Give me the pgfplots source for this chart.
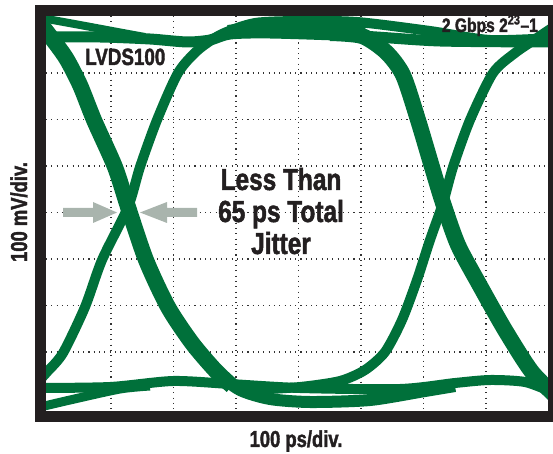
\documentclass[border=0pt]{standalone}
\usepackage{pgfplots}
\pgfplotsset{compat=1.18}
\usepackage{fontspec}
\setmainfont{Liberation Sans}
\newfontfamily\cond[FakeStretch=0.8,FakeBold=1.6]{Liberation Sans Bold}
\definecolor{eye}{RGB}{0,112,58}
\definecolor{framec}{RGB}{35,31,32}
\definecolor{arr}{RGB}{169,180,173}
\begin{document}
\begin{tikzpicture}
\useasboundingbox (0pt,0pt) rectangle (553pt,454pt);
\begin{axis}[
  at={(46pt,43pt)}, anchor=south west, scale only axis,
  width=502pt, height=395pt,
  xmin=46, xmax=548, ymin=16, ymax=411, y dir=reverse,
  axis line style={draw=none},
  xtick={111,173.5,236,298.5,361,423.5,486},
  ytick={73,119.5,166,212.5,259,305.5,352},
  xticklabels={}, yticklabels={}, major tick length=0pt,
  grid=major,
  major grid style={black!80, line width=1.1pt, dash pattern=on 1.1pt off 4.2pt},
  clip=true,
  every axis plot/.append style={line join=round, smooth, tension=0.45},
]
% low level, left lower diagonal
\addplot[eye, line width=9pt] coordinates {(36,408) (70,400) (120,389) (150,386)};
% low level hold
\addplot[eye, line width=10pt] coordinates {(36,388) (110,387) (173,381) (230,384) (300,388) (400,389) (455,383) (490,380) (525,382) (552,392)};
% top-left diagonal
\addplot[eye, line width=8pt] coordinates {(36,17) (80,25) (123,33) (145,37)};
% high level hold
\addplot[eye, line width=11pt] coordinates {(40,37) (100,37) (150,39) (187,42) (210,40) (230,34) (270,33) (360,36) (440,41) (552,42)};
% bulk filler
\addplot[eye, line width=12pt] coordinates {(228,31) (260,28) (330,28) (365,31)};
% left falling edge
\addplot[eye, line width=16pt] coordinates {(36,18) (50,36) (66,58) (80,85) (94,120) (115,167) (128,207) (146,260) (168,307) (192,343) (215,370) (232,386)};
\addplot[eye, line width=12pt] coordinates {(215,372) (240,390) (270,399) (310,402) (370,400) (425,391) (455,386)};
% left rising edge
\addplot[eye, line width=10pt] coordinates {(36,384) (47,372) (63,353) (85,307) (102,260) (128,207) (140,167) (157,120) (178,73) (198,50) (222,34) (255,23) (300,21) (357,22) (430,31) (490,40) (552,38)};
% right falling edge
\addplot[eye, line width=16pt] coordinates {(330,33) (362,36) (386,52) (403,75) (418,120) (432,167) (443,203) (458,245) (479,284) (505,330) (532,372) (560,400)};
% right rising edge
\addplot[eye, line width=10pt] coordinates {(250,390) (300,387) (340,381) (365,370) (385,352) (402,320) (417,280) (430,240) (443,203) (453,167) (470,120) (493,73) (515,53) (537,38) (552,28)};
% arrows
\fill[arr] (63,208) -- (93,208) -- (93,202) -- (117,212.5) -- (93,223) -- (93,217) -- (63,217) -- cycle;
\fill[arr] (197,208) -- (167,208) -- (167,202) -- (140,212.5) -- (167,223) -- (167,217) -- (197,217) -- cycle;
\end{axis}
\draw[framec, line width=11pt] (40.5pt,37.5pt) rectangle (553.5pt,443.5pt);
\begin{scope}[every node/.style={inner sep=0pt, text=framec}]
\node[anchor=base west] at (85pt,389pt) {\cond\fontsize{23.5}{24}\selectfont LVDS100};
\node[anchor=base east] at (538pt,422pt) {\cond\fontsize{19.5}{20}\selectfont 2 Gbps 2\textsuperscript{23}–1};
\node[anchor=base] at (281pt,264pt) {\cond\fontsize{30.5}{31}\selectfont Less Than};
\node[anchor=base] at (281pt,232pt) {\cond\fontsize{30.5}{31}\selectfont 65 ps Total};
\node[anchor=base] at (281pt,200pt) {\cond\fontsize{30.5}{31}\selectfont Jitter};
\node[anchor=base, rotate=90] at (27pt,242pt) {\cond\fontsize{23}{24}\selectfont 100 mV/div.};
\node[anchor=base] at (296pt,7pt) {\cond\fontsize{23}{24}\selectfont 100 ps/div.};
\end{scope}
\end{tikzpicture}
\end{document}
